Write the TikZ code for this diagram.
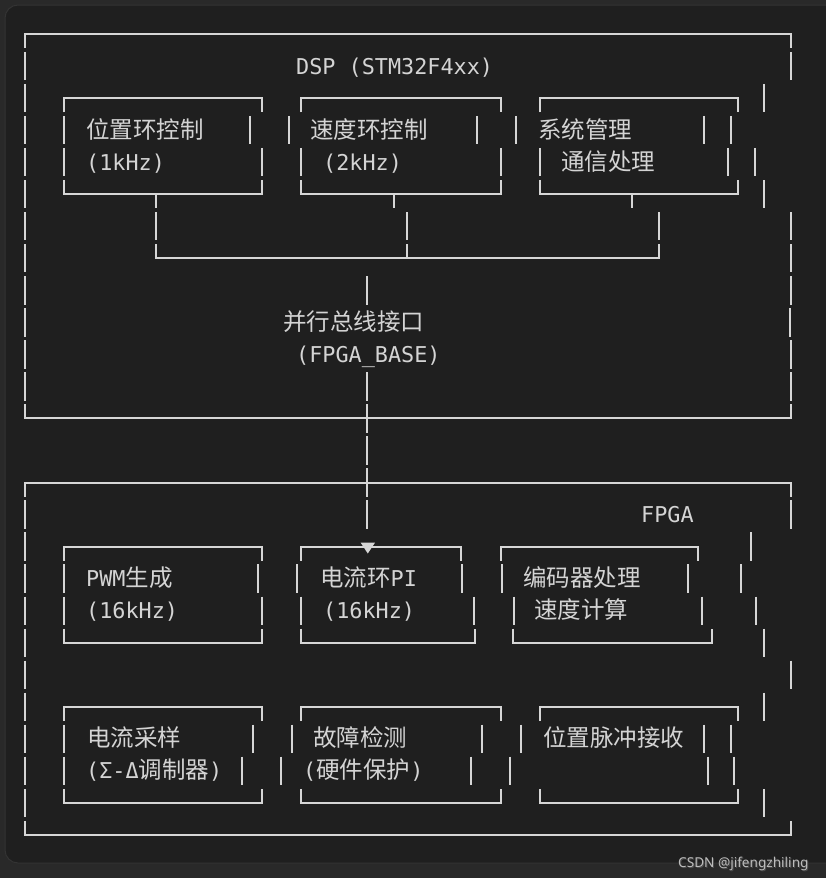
\documentclass[tikz,border=0pt]{standalone}
\usepackage{fontspec}
\usetikzlibrary{calc}
\setmainfont{DejaVu Sans Mono}
\newfontfamily\cjkfont{Noto Sans CJK SC}
\newfontfamily\wmfont{Noto Sans}
\newcommand\zh[1]{{\cjkfont\fontsize{23.5}{26}\selectfont #1}}
\definecolor{outerbg}{HTML}{292929}
\definecolor{panelbg}{HTML}{1F1F1F}
\definecolor{panelbd}{HTML}{333333}
\definecolor{fg}{HTML}{D6D6D6}
\definecolor{txtc}{HTML}{D4D4D4}
\definecolor{wmc}{HTML}{BDBDBD}
\tikzset{
  declare function={Y(\r)=34+32.04*\r;},
  ln/.style={draw=fg, line width=2pt, line join=miter},
  txt/.style={text=txtc, inner sep=0pt, anchor=base west, font=\fontsize{21.8}{24}\selectfont},
  wmtxt/.style={inner sep=0pt, anchor=base west, font=\wmfont\fontsize{13.6}{16}\selectfont},
}
% vertical bar segment in a text row
\newcommand\vbarseg[2]{\draw[ln] (#1,{Y(#2)-14.2}) -- (#1,{Y(#2)+14.2});}
% box top: corners with stubs going down
\newcommand\boxtopline[3]{\draw[ln] (#1,{Y(#3)+14.2}) -- (#1,{Y(#3)}) -- (#2,{Y(#3)}) -- (#2,{Y(#3)+14.2});}
% box bottom: corners with stubs going up
\newcommand\boxbotline[3]{\draw[ln] (#1,{Y(#3)-14.2}) -- (#1,{Y(#3)}) -- (#2,{Y(#3)}) -- (#2,{Y(#3)-14.2});}
\begin{document}
\begin{tikzpicture}[x=1pt,y=-1pt]
\useasboundingbox (0,0) rectangle (826,878);
\fill[outerbg] (0,0) rectangle (826,878);
\draw[panelbd, fill=panelbg, line width=1pt, rounded corners=13pt] (5,5) rectangle (850,863);

% ---------------- DSP frame ----------------
\boxtopline{24.5}{791}{0}
\foreach \r in {1,...,11} {\vbarseg{24.5}{\r}}
\foreach \r/\x in {1/791,2/764,3/731,4/755,5/764,6/791,7/791,8/791,9/790,10/791,11/791} {\vbarseg{\x}{\r}}
\boxbotline{24.5}{791}{12}

% DSP boxes
\boxtopline{64}{262}{2}
\boxtopline{301}{501}{2}
\boxtopline{540}{738}{2}
\foreach \x in {64,250,289,477,516,704} {\vbarseg{\x}{3}}
\foreach \x in {64,262,301,501,540,728} {\vbarseg{\x}{4}}
\boxbotline{64}{262}{5}
\boxbotline{301}{501}{5}
\boxbotline{540}{738}{5}

\node[txt] (dsp)  at (296,{Y(1)+8}) {DSP (STM32F4xx)};
\node[txt] (pos)  at (86,{Y(3)+8}) {\zh{位置环控制}};
\node[txt] (posf) at (86,{Y(4)+8}) {(1kHz)};
\node[txt] (spd)  at (310,{Y(3)+8}) {\zh{速度环控制}};
\node[txt] (spdf) at (323,{Y(4)+8}) {(2kHz)};
\node[txt] (sys)  at (538,{Y(3)+8}) {\zh{系统管理}};
\node[txt] (com)  at (561,{Y(4)+8}) {\zh{通信处理}};
\node[txt] (bus)  at (283,{Y(9)+8}) {\zh{并行总线接口}};
\node[txt] (base) at (296,{Y(10)+8}) {(FPGA\_BASE)};

% internal bus
\coordinate (t1) at (156,{Y(5)});
\coordinate (t2) at (394,{Y(5)});
\coordinate (t3) at (632,{Y(5)});
\draw[ln] (t1) -- ++(0,14.2);
\draw[ln] (t2) -- ++(0,14.2);
\draw[ln] (t3) -- ++(0,14.2);
\foreach \x in {156,407,659} {\vbarseg{\x}{6}}
\coordinate (bl) at (156,{Y(7)});
\coordinate (br) at (659,{Y(7)});
\draw[ln] ($(bl)+(0,-14.2)$) -- (bl) -- (br) -- ++(0,-14.2);
\draw[ln] (407,{Y(7)-14.2}) -- (407,{Y(7)});

% bus to FPGA
\foreach \r in {8,11,12,13,14,15} {\vbarseg{367}{\r}}

% ---------------- FPGA frame ----------------
\boxtopline{24.5}{791}{14}
\foreach \r in {15,...,24} {\vbarseg{24.5}{\r}}
\foreach \r/\x in {15/791,16/751,17/741,18/756,19/764,20/791,21/764,22/731,23/734,24/764} {\vbarseg{\x}{\r}}
\boxbotline{24.5}{791}{25}

\node[txt] (fpga) at (641,{Y(15)+8}) {FPGA};

% row 1 of FPGA boxes
\boxtopline{64}{262}{16}
\boxtopline{301}{461}{16}
\boxtopline{501}{698}{16}
\coordinate (arr) at (367.7,{Y(16)});
\fill[fg] (360.7,542.7) -- (375,542.7) -- (367.8,553.5) -- cycle;
\foreach \x in {64,258,297,462,502,688} {\vbarseg{\x}{17}}
\foreach \x in {64,262,301,474,514,702} {\vbarseg{\x}{18}}
\boxbotline{64}{262}{19}
\boxbotline{301}{475}{19}
\boxbotline{513}{712}{19}

\node[txt] (pwm)  at (86,{Y(17)+8}) {PWM\zh{生成}};
\node[txt] (pwmf) at (86,{Y(18)+8}) {(16kHz)};
\node[txt] (cur)  at (320,{Y(17)+8}) {\zh{电流环}PI};
\node[txt] (curf) at (323,{Y(18)+8}) {(16kHz)};
\node[txt] (enc)  at (523,{Y(17)+8}) {\zh{编码器处理}};
\node[txt] (vel)  at (534,{Y(18)+8}) {\zh{速度计算}};

% row 2 of FPGA boxes
\boxtopline{64}{262}{21}
\boxtopline{301}{501}{21}
\boxtopline{540}{738}{21}
\foreach \x in {64,253,292,482,521,704} {\vbarseg{\x}{22}}
\foreach \x in {64,242,281,471,510,708} {\vbarseg{\x}{23}}
\boxbotline{64}{262}{24}
\boxbotline{301}{501}{24}
\boxbotline{540}{738}{24}

\node[txt] (smp)  at (87,{Y(22)+8}) {\zh{电流采样}};
\node[txt] (smpf) at (86,{Y(23)+8}) {(Σ-Δ\zh{调制器})};
\node[txt] (flt)  at (313,{Y(22)+8}) {\zh{故障检测}};
\node[txt] (fltf) at (303,{Y(23)+8}) {(\zh{硬件保护})};
\node[txt] (pls)  at (543,{Y(22)+8}) {\zh{位置脉冲接收}};

% watermark
\node[wmtxt, text=black!70] at (679,868) {CSDN @jifengzhiling};
\node[wmtxt, text=wmc] (wm) at (678,867) {CSDN @jifengzhiling};
\end{tikzpicture}
\end{document}
